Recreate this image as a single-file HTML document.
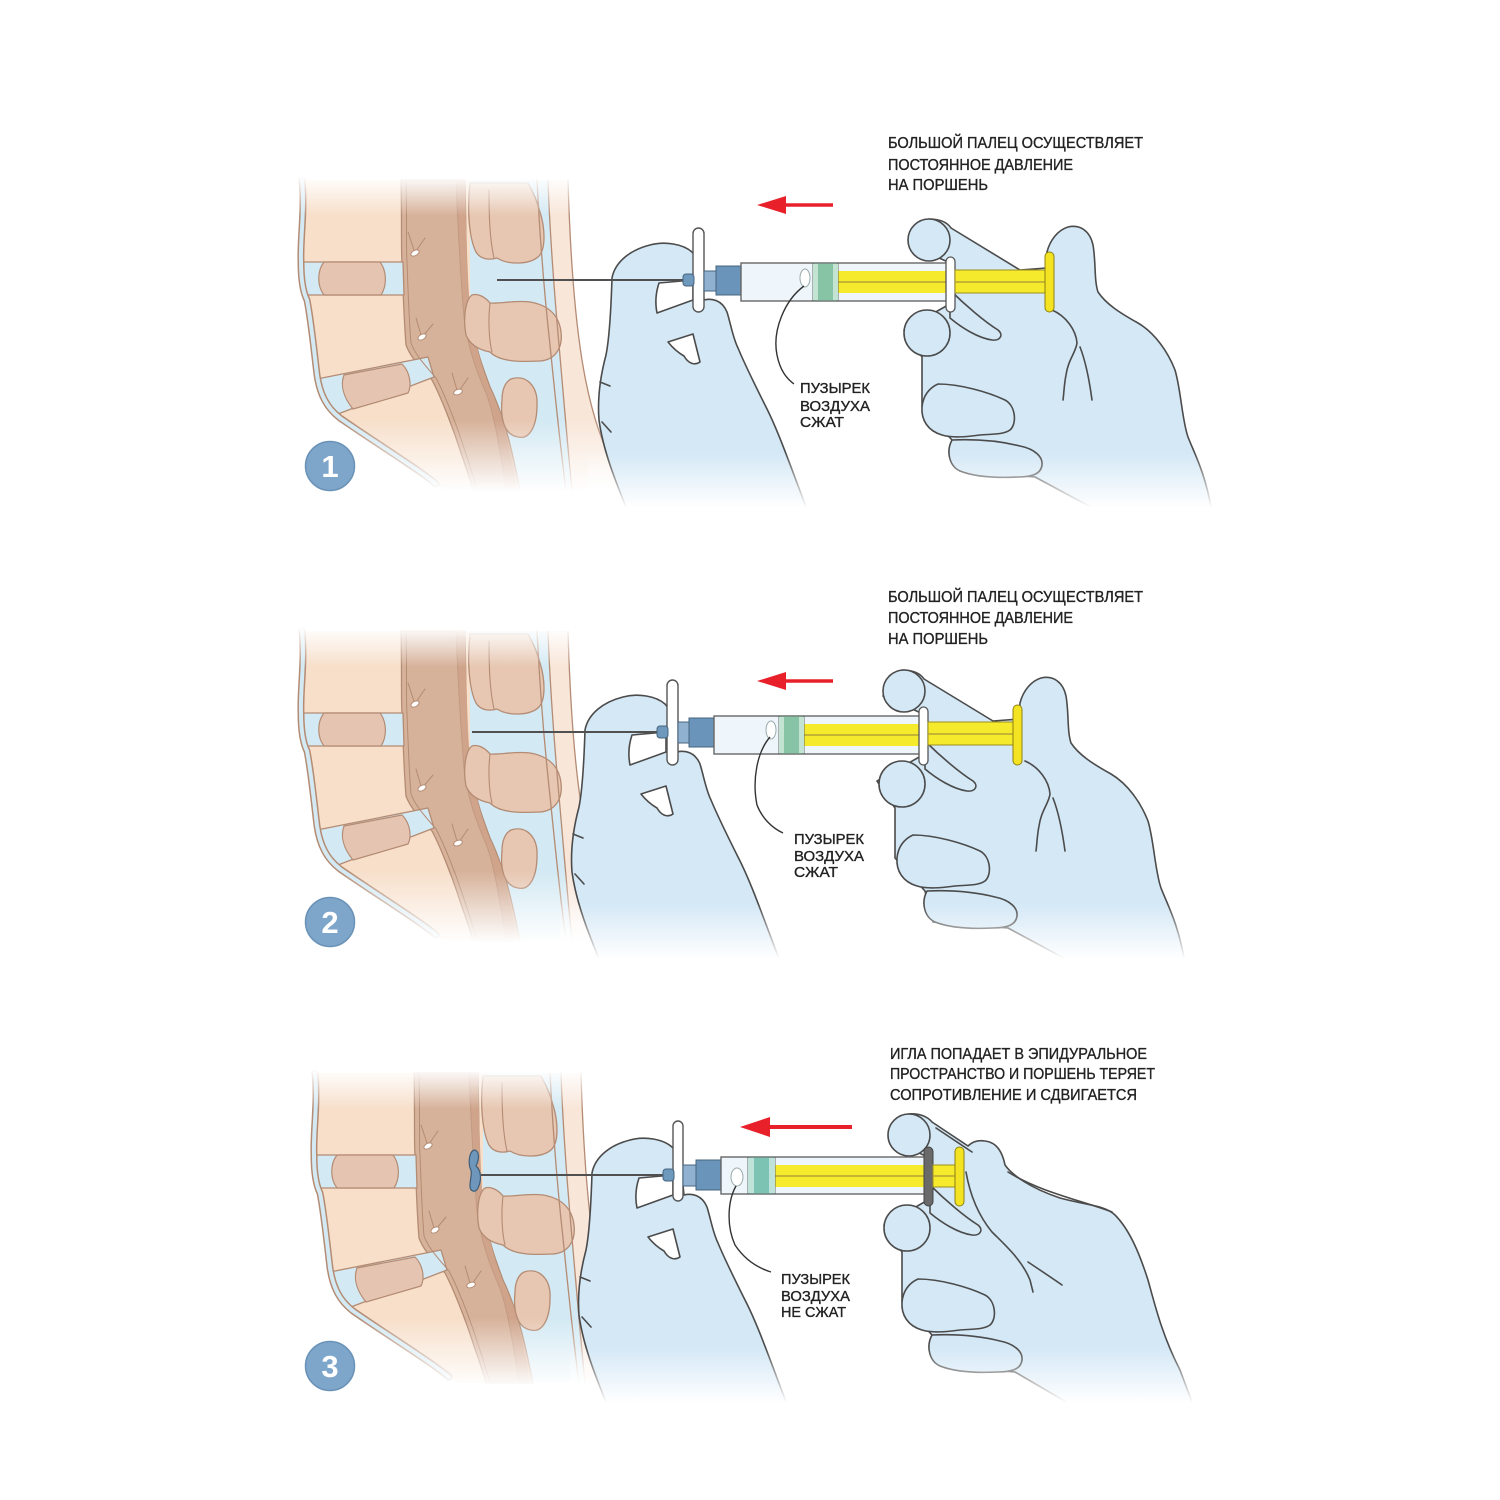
<!DOCTYPE html>
<html><head><meta charset="utf-8">
<style>
html,body{margin:0;padding:0;background:#fff;}
svg{display:block;}
text{font-family:"Liberation Sans","DejaVu Sans",sans-serif;fill:#222;stroke:#222;stroke-width:0.35;}
</style></head><body>
<svg width="1500" height="1500" viewBox="0 0 1500 1500" xmlns="http://www.w3.org/2000/svg">
<defs>
 <linearGradient id="fd" x1="0" y1="0" x2="0" y2="1"><stop offset="0" stop-color="#fff" stop-opacity="0"/><stop offset="1" stop-color="#fff" stop-opacity="1"/></linearGradient>
 <linearGradient id="fu" x1="0" y1="0" x2="0" y2="1"><stop offset="0" stop-color="#fff" stop-opacity="1"/><stop offset="1" stop-color="#fff" stop-opacity="0"/></linearGradient>

 <g id="spine" stroke-linejoin="round" stroke-linecap="round">
  <path fill="#f8e6d9" d="M546,180 L568,180 C570,250 574,310 582,360 C590,410 603,450 625,490 L570,490 C566,440 562,390 558,345 C554,300 549,240 546,180 Z"/>
  <path fill="#d3e9f3" d="M462,180 L548,180 C550,240 555,300 559,345 C563,390 567,440 572,490 L515,490 C510,450 500,410 490,387 C482,368 475,345 470,320 C467,290 465,240 462,180 Z"/>
  <path fill="#f7dfca" d="M300,180 L470,180 L470,300 L480,370 L520,490 L445,490 C425,475 385,448 340,418 C327,408 320,395 317,375 C314,350 311,320 307,300 C303,292 301,280 301,262 C300,240 305,210 302,180 Z"/>
  <path fill="#d7b29a" stroke="#b48b73" stroke-width="1.3" d="M401,180 C402,220 401,250 402,262 C403,290 404,320 406,345 C410,356 418,365 432,380 C440,395 452,425 460,450 C465,465 470,478 473,490 L520,490 C516,470 510,440 503,420 C498,405 494,395 490,387 C484,370 479,358 477,347 C472,325 468,300 467,290 C466,260 466,230 465,180 Z"/>
  <path fill="#cfa48b" d="M456,180 C458,230 461,280 464,318 C468,348 476,370 486,393 C494,413 500,450 506,490 L517,490 C512,460 506,430 500,412 C494,398 488,386 484,372 C477,352 472,325 469,295 C467,262 466,220 465,180 Z"/>
  <path fill="none" stroke="#c29a82" stroke-width="1" d="M456,180 C458,230 461,280 464,318 C468,348 476,370 486,393 C494,413 500,450 506,490"/>
  <path fill="#d3e9f3" stroke="#b48b73" stroke-width="1.3" d="M302,262 L403,262 L404,295 L305,295 Z"/>
  <path fill="#e5c5b1" stroke="#b48b73" stroke-width="1.2" d="M324,262 L380,262 C387,271 387,286 381,295 L324,295 C317,286 317,271 324,262 Z"/>
  <path fill="#d3e9f3" stroke="#b48b73" stroke-width="1.3" d="M317,379 L428,357 L434,377 L338,414 C328,404 320,392 317,379 Z"/>
  <path fill="#e5c5b1" stroke="#b48b73" stroke-width="1.2" d="M344,375 L402,364 C410,372 412,385 408,393 L353,409 C344,398 340,386 344,375 Z"/>
  <path fill="#e7c7b2" stroke="#b48b73" stroke-width="1.3" d="M470,183 C467,210 469,238 476,252 C481,260 490,260 497,258 C508,265 530,265 539,256 C546,248 545,228 540,212 C537,200 532,190 528,183 Z"/>
  <path fill="none" stroke="#b48b73" stroke-width="1.1" d="M489,190 C489,220 490,240 494,258"/>
  <path fill="#e7c7b2" stroke="#b48b73" stroke-width="1.3" d="M472,295 C465,300 463,320 466,335 C470,345 480,350 490,352 C500,362 520,362 540,361 C555,360 563,348 561,332 C559,315 548,305 530,302 C515,300 500,304 490,303 C485,297 478,293 472,295 Z"/>
  <path fill="none" stroke="#b48b73" stroke-width="1.1" d="M490,303 C488,320 489,340 492,352"/>
  <path fill="#e7c7b2" stroke="#b48b73" stroke-width="1.3" d="M511,379 C526,374 538,386 537,405 C537,425 530,440 518,437 C505,435 500,420 502,400 C502,390 505,382 511,379 Z"/>
  <path fill="none" stroke="#b48b73" stroke-width="1.3" d="M537,180 C540,240 545,300 550,345 C555,395 560,445 566,490"/>
  <path fill="none" stroke="#b48b73" stroke-width="1.3" d="M548,180 C550,240 555,300 559,345 C563,390 567,440 572,490"/>
  <path fill="none" stroke="#b48b73" stroke-width="1.3" d="M568,180 C570,250 574,310 582,360 C590,410 603,450 625,490"/>
  <path fill="none" stroke="#b48b73" stroke-width="7" d="M302,180 C305,210 300,240 301,262 C301,280 303,292 307,300 C311,320 314,350 317,375 C320,395 327,408 340,418 C360,432 385,448 410,465 C422,473 430,479 436,484"/>
  <path fill="none" stroke="#d3e9f3" stroke-width="4" d="M302,180 C305,210 300,240 301,262 C301,280 303,292 307,300 C311,320 314,350 317,375 C320,395 327,408 340,418 C360,432 385,448 410,465 C422,473 430,479 436,484"/>
  <path fill="none" stroke="#b48b73" stroke-width="1" d="M406,180 C407,220 406,250 407,262 C408,290 409,320 411,343 C415,354 423,363 436,378 C444,393 456,423 464,448 C469,463 474,478 477,490"/>
  <g fill="none" stroke="#b48b73" stroke-width="1">
   <path d="M408,232 L414,250 M425,238 L416,251"/>
   <path d="M416,318 L421,335 M433,324 L423,336"/>
   <path d="M452,373 L457,390 M468,378 L459,391"/>
  </g>
  <g fill="#fff" stroke="#b48b73" stroke-width="1">
   <ellipse cx="415" cy="253" rx="4.5" ry="2.6" transform="rotate(-30 415 253)"/>
   <ellipse cx="422" cy="337" rx="4.5" ry="2.6" transform="rotate(-30 422 337)"/>
   <ellipse cx="458" cy="392" rx="4.5" ry="2.6" transform="rotate(-20 458 392)"/>
  </g>
 </g>

 <g id="lh" stroke="#4b4b4b" stroke-width="1.6" stroke-linejoin="round" stroke-linecap="round">
  <path fill="#d4e8f6" d="M612,278 C615,262 630,250 650,245 C665,241 683,244 692,252 L700,262 L704,300 C712,298 722,300 727,312 C731,325 733,338 738,348 C745,365 755,385 765,405 C778,430 790,465 808,512 L628,512 C615,480 603,450 599,420 C597,395 602,370 606,355 C609,340 611,310 612,278 Z"/>
  <path fill="#fff" d="M659,283 L693,280 L693,300 L657,313 C655,303 656,292 659,283 Z"/>
  <path fill="#fff" d="M668,342 L693,334 L700,362 C694,366 688,363 684,356 C677,352 672,347 668,342 Z"/>
  <path fill="none" d="M600,382 L610,386 M602,422 L611,432"/>
 </g>

 <g id="rhf" fill="#d4e8f6" stroke="#4b4b4b" stroke-width="1.6" stroke-linejoin="round">
  <circle cx="929" cy="240" r="21"/>
  <path d="M950,290 C965,305 985,322 998,330 C1004,335 1000,341 992,340 C978,338 962,328 950,318 Z"/>
  <circle cx="927" cy="333" r="23"/>
  <path d="M938,384 C960,384 988,392 1005,400 C1016,406 1017,424 1010,430 C1003,435 990,434 980,435 C965,437 952,438 942,435 C928,431 921,420 922,407 C923,396 929,388 938,384 Z"/>
  <path d="M952,440 C975,439 1000,441 1020,446 C1035,449 1043,457 1042,465 C1041,474 1032,477 1018,477 C998,478 975,477 960,471 C949,466 946,451 952,440 Z"/>
 </g>

 <g id="rhb" stroke="#4b4b4b" stroke-width="1.6" stroke-linejoin="round" stroke-linecap="round">
  <path fill="#d4e8f6" d="M929,219 C940,219 947,222 951,228 L1020,270 L1046,268 L1047,252 C1050,240 1058,230 1068,227 C1080,224 1090,231 1093,245 C1096,262 1094,280 1098,292 C1106,304 1120,313 1138,323 C1155,333 1168,352 1175,370 C1181,390 1182,420 1188,437 C1195,455 1205,472 1212,512 L1100,512 L1035,477 L960,471 L952,440 L922,407 L922,357 L904,330 L948,305 L948,262 L910,245 Z"/>
  <path fill="none" d="M1052,310 C1066,316 1076,330 1077,343 C1076,352 1068,360 1066,375 C1064,385 1064,393 1063,400 M1080,347 C1087,365 1090,385 1092,400"/>
 </g>
</defs>

<!-- ================= PANEL 1 ================= -->
<use href="#spine"/>
<rect x="286" y="176" width="345" height="40" fill="url(#fu)"/>
<rect x="286" y="420" width="345" height="72" fill="url(#fd)"/>
<rect x="286" y="491" width="345" height="8" fill="#fff"/>
<use href="#lh"/>
<use href="#rhb"/>
<use href="#rhf"/>
<line x1="497" y1="280" x2="686" y2="280" stroke="#505050" stroke-width="2"/>
<rect x="693" y="228" width="11" height="84" rx="5.5" fill="#fff" stroke="#555" stroke-width="1.4"/>
<rect x="683" y="274" width="11" height="12" rx="3" fill="#6f98bd" stroke="#46647f"/>
<rect x="704" y="271" width="12" height="20" fill="#90b2d0" stroke="#46647f"/>
<rect x="716" y="266" width="25" height="29" fill="#6a94ba" stroke="#46647f"/>
<rect x="741" y="263" width="206" height="38" fill="#eef6fb" stroke="#666" stroke-width="1.4"/>
<rect x="838" y="271" width="108" height="22" fill="#f6ea2c"/>
<line x1="838" y1="282" x2="946" y2="282" stroke="#b3a535" stroke-width="1.5"/>
<rect x="813" y="263" width="25" height="38" fill="#86c4a5" stroke="#666"/>
<rect x="813" y="264" width="5" height="36" fill="#c4e4d3"/>
<rect x="833" y="264" width="5" height="36" fill="#c4e4d3"/>
<ellipse cx="805" cy="278" rx="5" ry="9" fill="#fff" stroke="#9aa"/>
<rect x="946" y="257" width="9" height="55" rx="4.5" fill="#fff" stroke="#555" stroke-width="1.3"/>
<rect x="955" y="270" width="91" height="23" fill="#f6ea2c" stroke="#9c8f20"/>
<line x1="955" y1="282" x2="1046" y2="282" stroke="#b3a535" stroke-width="1.5"/>
<rect x="1045" y="252" width="9" height="60" rx="4.5" fill="#f3e322" stroke="#8f8210"/>
<rect x="588" y="452" width="640" height="56" fill="url(#fd)"/>
<rect x="588" y="507" width="640" height="10" fill="#fff"/>
<path d="M804,286 C785,300 772,330 777,355 C780,370 786,378 794,384" fill="none" stroke="#333" stroke-width="1.4"/>
<line x1="782" y1="205" x2="833" y2="205" stroke="#e8202a" stroke-width="3.5"/>
<polygon points="757,205 786,196 786,214" fill="#e8202a"/>
<text x="888" y="148" font-size="15.5" textLength="255" lengthAdjust="spacingAndGlyphs">БОЛЬШОЙ ПАЛЕЦ ОСУЩЕСТВЛЯЕТ</text>
<text x="888" y="170" font-size="15.5" textLength="185" lengthAdjust="spacingAndGlyphs">ПОСТОЯННОЕ ДАВЛЕНИЕ</text>
<text x="888" y="190" font-size="15.5" textLength="100" lengthAdjust="spacingAndGlyphs">НА ПОРШЕНЬ</text>
<text x="800" y="393" font-size="15" textLength="70" lengthAdjust="spacingAndGlyphs">ПУЗЫРЕК</text>
<text x="800" y="411" font-size="15" textLength="70" lengthAdjust="spacingAndGlyphs">ВОЗДУХА</text>
<text x="800" y="427" font-size="15" textLength="44" lengthAdjust="spacingAndGlyphs">СЖАТ</text>
<circle cx="330" cy="466" r="24.5" fill="#7ea6ca" stroke="#6a92b7" stroke-width="1.5"/>
<text x="330" y="477" font-size="31" font-weight="bold" text-anchor="middle" style="fill:#fff;stroke:none">1</text>

<!-- ================= PANEL 2 ================= -->
<use href="#spine" transform="translate(0,451)"/>
<rect x="286" y="627" width="345" height="40" fill="url(#fu)"/>
<rect x="286" y="871" width="345" height="72" fill="url(#fd)"/>
<rect x="286" y="942" width="345" height="8" fill="#fff"/>
<use href="#lh" transform="translate(-27,452)"/>
<use href="#rhb" transform="translate(-27,451)"/>
<use href="#rhf" transform="translate(-25,451)"/>
<line x1="472" y1="732" x2="660" y2="732" stroke="#505050" stroke-width="2"/>
<rect x="667" y="680" width="11" height="85" rx="5.5" fill="#fff" stroke="#555" stroke-width="1.4"/>
<rect x="657" y="726" width="11" height="12" rx="3" fill="#6f98bd" stroke="#46647f"/>
<rect x="678" y="722" width="11" height="21" fill="#90b2d0" stroke="#46647f"/>
<rect x="689" y="718" width="25" height="29" fill="#6a94ba" stroke="#46647f"/>
<rect x="714" y="716" width="206" height="38" fill="#eef6fb" stroke="#666" stroke-width="1.4"/>
<rect x="804" y="724" width="115" height="22" fill="#f6ea2c"/>
<line x1="804" y1="735" x2="919" y2="735" stroke="#b3a535" stroke-width="1.5"/>
<rect x="779" y="716" width="25" height="38" fill="#86c4a5" stroke="#666"/>
<rect x="779" y="717" width="5" height="36" fill="#c4e4d3"/>
<rect x="799" y="717" width="5" height="36" fill="#c4e4d3"/>
<ellipse cx="771" cy="730" rx="5" ry="9" fill="#fff" stroke="#9aa"/>
<rect x="919" y="707" width="9" height="58" rx="4.5" fill="#fff" stroke="#555" stroke-width="1.3"/>
<rect x="928" y="722" width="86" height="23" fill="#f6ea2c" stroke="#9c8f20"/>
<line x1="928" y1="734" x2="1014" y2="734" stroke="#b3a535" stroke-width="1.5"/>
<rect x="1013" y="705" width="9" height="60" rx="4.5" fill="#f3e322" stroke="#8f8210"/>
<rect x="560" y="903" width="660" height="56" fill="url(#fd)"/>
<rect x="560" y="958" width="660" height="12" fill="#fff"/>
<path d="M770,737 C757,752 752,780 757,805 C762,818 772,828 783,833" fill="none" stroke="#333" stroke-width="1.4"/>
<line x1="782" y1="681" x2="833" y2="681" stroke="#e8202a" stroke-width="3.5"/>
<polygon points="757,681 786,672 786,690" fill="#e8202a"/>
<text x="888" y="602" font-size="15.5" textLength="255" lengthAdjust="spacingAndGlyphs">БОЛЬШОЙ ПАЛЕЦ ОСУЩЕСТВЛЯЕТ</text>
<text x="888" y="623" font-size="15.5" textLength="185" lengthAdjust="spacingAndGlyphs">ПОСТОЯННОЕ ДАВЛЕНИЕ</text>
<text x="888" y="644" font-size="15.5" textLength="100" lengthAdjust="spacingAndGlyphs">НА ПОРШЕНЬ</text>
<text x="794" y="844" font-size="15" textLength="70" lengthAdjust="spacingAndGlyphs">ПУЗЫРЕК</text>
<text x="794" y="861" font-size="15" textLength="70" lengthAdjust="spacingAndGlyphs">ВОЗДУХА</text>
<text x="794" y="877" font-size="15" textLength="44" lengthAdjust="spacingAndGlyphs">СЖАТ</text>
<circle cx="330" cy="922" r="24.5" fill="#7ea6ca" stroke="#6a92b7" stroke-width="1.5"/>
<text x="330" y="933" font-size="31" font-weight="bold" text-anchor="middle" style="fill:#fff;stroke:none">2</text>

<!-- ================= PANEL 3 ================= -->
<use href="#spine" transform="translate(13,893)"/>
<rect x="296" y="1069" width="345" height="40" fill="url(#fu)"/>
<rect x="296" y="1318" width="345" height="70" fill="url(#fd)"/>
<rect x="296" y="1387" width="345" height="8" fill="#fff"/>
<path d="M475,1150 C480,1152 479,1160 476,1166 C481,1170 482,1180 478,1188 C476,1193 470,1192 470,1186 C470,1178 473,1172 470,1168 C468,1160 470,1150 475,1150 Z" fill="#6e97bb" stroke="#3f5e7a" stroke-width="1.2"/>
<use href="#lh" transform="translate(-20,895)"/>
<g stroke="#4b4b4b" stroke-width="1.6" stroke-linejoin="round" stroke-linecap="round">
 <path fill="#d4e8f6" d="M908,1114 C920,1113 928,1117 932,1122 L968,1146 C972,1142 978,1140 985,1141 C995,1142 1002,1150 1005,1165 C1012,1175 1030,1188 1060,1198 C1085,1205 1105,1205 1115,1215 C1130,1230 1140,1255 1148,1280 C1155,1305 1162,1335 1180,1370 L1195,1410 L1080,1410 L1015,1372 L940,1366 L932,1335 L902,1302 L902,1252 L884,1225 L928,1200 L928,1157 L890,1140 Z"/>
 <path fill="none" d="M966,1172 C970,1195 978,1215 992,1232 C1005,1245 1022,1260 1030,1280 L1033,1292 M1028,1262 C1040,1270 1052,1278 1062,1285 M936,1128 L972,1152 M1008,1172 C1040,1192 1080,1200 1112,1212"/>
</g>
<use href="#rhf" transform="translate(-20,895)"/>
<line x1="481" y1="1175" x2="665" y2="1175" stroke="#505050" stroke-width="2"/>
<rect x="673" y="1121" width="10" height="80" rx="5" fill="#fff" stroke="#555" stroke-width="1.4"/>
<rect x="663" y="1169" width="11" height="12" rx="3" fill="#6f98bd" stroke="#46647f"/>
<rect x="683" y="1165" width="13" height="21" fill="#90b2d0" stroke="#46647f"/>
<rect x="696" y="1160" width="25" height="30" fill="#6a94ba" stroke="#46647f"/>
<rect x="721" y="1157" width="206" height="37" fill="#eef6fb" stroke="#666" stroke-width="1.4"/>
<rect x="775" y="1165" width="150" height="22" fill="#f6ea2c"/>
<line x1="775" y1="1176" x2="925" y2="1176" stroke="#b3a535" stroke-width="1.5"/>
<rect x="748" y="1157" width="27" height="37" fill="#7cc3b3" stroke="#666"/>
<rect x="748" y="1158" width="6" height="35" fill="#bfe2d9"/>
<rect x="769" y="1158" width="6" height="35" fill="#bfe2d9"/>
<ellipse cx="737" cy="1177" rx="6" ry="9" fill="#fff" stroke="#9aa"/>
<rect x="924" y="1147" width="9" height="59" rx="4.5" fill="#6a6a6a" stroke="#444"/>
<rect x="933" y="1165" width="23" height="22" fill="#f6ea2c" stroke="#9c8f20"/>
<line x1="933" y1="1176" x2="956" y2="1176" stroke="#b3a535" stroke-width="1.5"/>
<rect x="955" y="1147" width="9" height="59" rx="4.5" fill="#f3e322" stroke="#8f8210"/>
<rect x="570" y="1347" width="660" height="56" fill="url(#fd)"/>
<rect x="570" y="1402" width="660" height="14" fill="#fff"/>
<path d="M736,1186 C728,1200 726,1225 735,1245 C745,1260 758,1268 771,1272" fill="none" stroke="#333" stroke-width="1.4"/>
<line x1="766" y1="1127" x2="852" y2="1127" stroke="#e8202a" stroke-width="4"/>
<polygon points="740,1127 770,1117 770,1137" fill="#e8202a"/>
<text x="890" y="1059" font-size="15.5" textLength="257" lengthAdjust="spacingAndGlyphs">ИГЛА ПОПАДАЕТ В ЭПИДУРАЛЬНОЕ</text>
<text x="890" y="1079" font-size="15.5" textLength="265" lengthAdjust="spacingAndGlyphs">ПРОСТРАНСТВО И ПОРШЕНЬ ТЕРЯЕТ</text>
<text x="890" y="1100" font-size="15.5" textLength="247" lengthAdjust="spacingAndGlyphs">СОПРОТИВЛЕНИЕ И СДВИГАЕТСЯ</text>
<text x="781" y="1284" font-size="15" textLength="69" lengthAdjust="spacingAndGlyphs">ПУЗЫРЕК</text>
<text x="781" y="1301" font-size="15" textLength="69" lengthAdjust="spacingAndGlyphs">ВОЗДУХА</text>
<text x="781" y="1317" font-size="15" textLength="65" lengthAdjust="spacingAndGlyphs">НЕ СЖАТ</text>
<circle cx="330" cy="1366" r="24.5" fill="#7ea6ca" stroke="#6a92b7" stroke-width="1.5"/>
<text x="330" y="1377" font-size="31" font-weight="bold" text-anchor="middle" style="fill:#fff;stroke:none">3</text>
</svg>
</body></html>
